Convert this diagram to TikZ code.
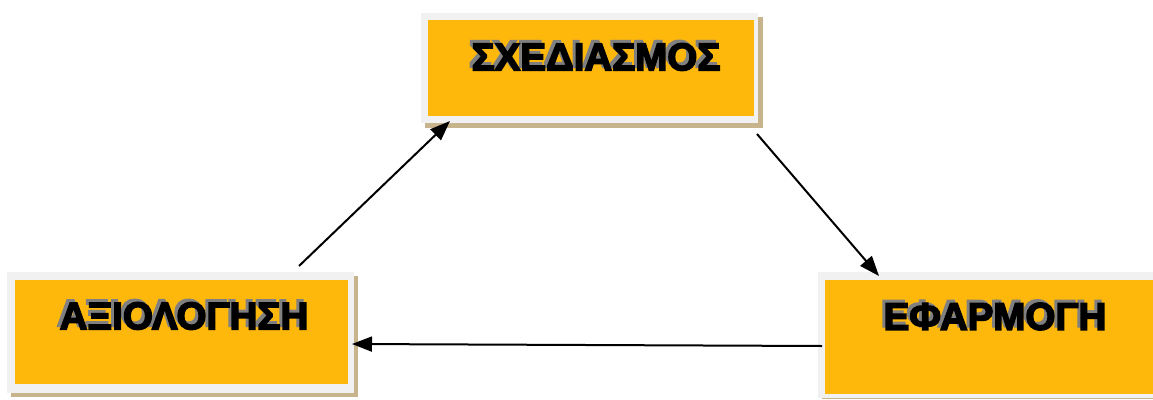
\documentclass[tikz,border=0pt]{standalone}
\usepackage{fontspec}
\setmainfont{Liberation Sans}
\newfontfamily\stagefont{Liberation Sans Bold}[FakeBold=4]
\usetikzlibrary{arrows.meta,calc}
\definecolor{boxorange}{RGB}{254,184,12}
\definecolor{framegray}{RGB}{241,241,241}
\definecolor{shadowtan}{RGB}{200,180,140}
\definecolor{txtshadow}{RGB}{128,128,128}
\begin{document}
\begin{tikzpicture}[x=1pt,y=-1pt,
  stagebox/.style={fill=boxorange, draw=none, inner sep=0pt},
  framebox/.style={fill=framegray, draw=none},
  dropbox/.style={fill=shadowtan, draw=none},
  stagetext/.style={font=\fontsize{38.5}{42}\stagefont, text=black, inner sep=0pt},
  stageshade/.style={font=\fontsize{38.5}{42}\stagefont, text=txtshadow, inner sep=0pt},
  flow/.style={-{Triangle[length=20pt,width=15pt]}, line width=2pt, black}]
\useasboundingbox (0,0) rectangle (1153,399);

% top box
\fill[dropbox] (425,17) rectangle (763,128);
\fill[framebox] (421,13) rectangle (758,123);
\node[stagebox, minimum width=326pt, minimum height=96pt] (planbox) at (591,68) {};
\node[stageshade] (planshade) at (593,54) {ΣΧΕΔΙΑΣΜΟΣ};
\node[stagetext] (plan) at (596,57) {ΣΧΕΔΙΑΣΜΟΣ};

% left box
\fill[dropbox] (11,276) rectangle (358,397);
\fill[framebox] (7,272) rectangle (354,393);
\node[stagebox, minimum width=333pt, minimum height=104pt] (evalbox) at (181.5,332) {};
\node[stageshade] (evalshade) at (181,313) {ΑΞΙΟΛΟΓΗΣΗ};
\node[stagetext] (eval) at (184,316) {ΑΞΙΟΛΟΓΗΣΗ};

% right box
\fill[dropbox] (822,276) rectangle (1153,399);
\fill[framebox] (818,272) rectangle (1153,398);
\node[stagebox, minimum width=328pt, minimum height=114pt] (implbox) at (989,337) {};
\node[stageshade] (implshade) at (992,313.5) {ΕΦΑΡΜΟΓΗ};
\node[stagetext] (impl) at (995,316.5) {ΕΦΑΡΜΟΓΗ};

% connectors
\coordinate (evalout) at (299,266);
\coordinate (planin) at (450,121);
\coordinate (planout) at (757,134);
\coordinate (implin) at (879,276);
\coordinate (implout) at (822,346);
\coordinate (evalin) at (352,344);
\draw[flow] (evalout) -- (planin);
\draw[flow] (planout) -- (implin);
\draw[flow] (implout) -- (evalin);
\end{tikzpicture}
\end{document}
